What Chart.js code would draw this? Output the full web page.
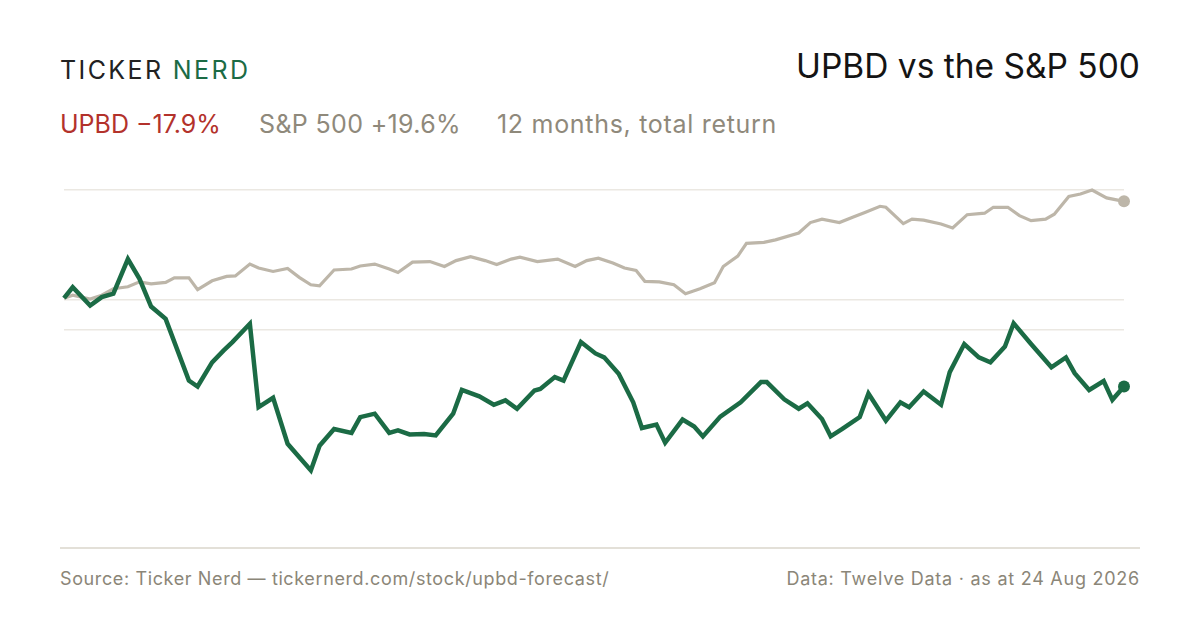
<!DOCTYPE html>
<html>
<head>
<meta charset="utf-8">
<script src="https://cdn.jsdelivr.net/npm/chart.js@4/dist/chart.umd.min.js"></script>
<style>
  body { margin: 0; background: #fff; font-family: Inter, "Liberation Sans", Arial, sans-serif; }
  #page { position: relative; width: 1200px; height: 630px; overflow: hidden; background: #fff; }
  .brand { position: absolute; left: 60px; top: 55px; font-size: 25px; letter-spacing: 2.4px; color: #222; }
  .brand span { color: #1b6b45; }
  .title { position: absolute; right: 60px; top: 46px; font-size: 33.5px; color: #141414; }
  .sub { position: absolute; top: 109px; font-size: 25px; color: #8f897b; white-space: nowrap; }
  .foot { position: absolute; top: 568px; font-size: 18px; letter-spacing: 0.62px; color: #8b8678; white-space: nowrap; }
  .rule { position: absolute; left: 60px; top: 547px; width: 1080px; height: 2px; background: #e3e0d8; }
  #wrap { position: absolute; left: 44px; top: 130px; width: 1100px; height: 435px; }
</style>
</head>
<body>
<div id="page">
  <div class="brand">TICKER <span>NERD</span></div>
  <div class="title">UPBD vs the S&amp;P 500</div>
  <div class="sub" style="left:60px;color:#b3322b">UPBD &minus;17.9%</div>
  <div class="sub" style="left:259px;letter-spacing:0.35px">S&amp;P 500 +19.6%</div>
  <div class="sub" style="left:497px;letter-spacing:0.7px">12 months, total return</div>
  <div id="wrap"><canvas id="returnChart"></canvas></div>
  <div class="rule"></div>
  <div class="foot" style="left:60px">Source: Ticker Nerd — tickernerd.com/stock/upbd-forecast/</div>
  <div class="foot" style="right:60px;letter-spacing:0.75px">Data: Twelve Data · as at 24 Aug 2026</div>
</div>
<script>
// days since 24 Aug 2025, cumulative total return in %
let upbdDays = [0, 3, 9, 13, 17, 22, 26, 30, 35, 43, 46, 51, 55, 58, 64, 67, 72, 77, 85, 88,
  93, 99, 102, 107, 112, 115, 119, 124, 128, 134, 137, 143, 148, 152, 156, 162, 164, 169, 172, 178,
  183, 186, 191, 196, 199, 204, 207, 213, 217, 220, 226, 233, 240, 242, 248, 253, 256, 261, 264, 268,
  274, 277, 283, 288, 291, 296, 302, 305, 310, 315, 319, 324, 327, 333, 340, 345, 348, 353, 358, 361, 365];
let upbdReturn = [0, 2.2, -1.5, 0.2, 0.9, 7.9, 3.9, -1.7, -4.2, -16.7, -17.9, -13.0, -10.6, -8.9, -5.2, -22.1, -20.2, -29.5, -34.9, -29.9,
  -26.5, -27.3, -24.1, -23.4, -27.3, -26.8, -27.6, -27.5, -27.8, -23.4, -18.6, -19.9, -21.6, -20.7, -22.4, -18.7, -18.4, -16.0, -16.7, -8.9,
  -11.2, -12.0, -15.3, -21.1, -26.3, -25.6, -29.3, -24.6, -26.0, -28.0, -24.0, -21.1, -17.0, -17.0, -20.5, -22.4, -21.3, -24.5, -28.0, -26.5,
  -24.1, -19.3, -24.8, -21.1, -22.1, -18.9, -21.6, -15.0, -9.3, -12.0, -13.0, -9.8, -5.1, -9.3, -14.0, -12.0, -15.2, -18.6, -16.8, -20.6, -17.9];

let spxDays = [0, 3, 9, 13, 17, 22, 26, 30, 35, 38, 43, 46, 51, 56, 59, 64, 67, 72, 77, 81,
  85, 88, 93, 99, 102, 107, 112, 115, 120, 126, 131, 135, 140, 145, 149, 154, 157, 163, 170, 176,
  180, 184, 189, 193, 197, 200, 205, 210, 214, 219, 224, 227, 232, 235, 241, 245, 253, 257, 261, 267,
  272, 276, 281, 283, 289, 292, 296, 302, 306, 311, 317, 320, 325, 329, 333, 338, 341, 346, 350, 354, 359, 365];
let spxReturn = [0, 0.6, -0.2, 0.6, 1.9, 2.3, 3.3, 2.9, 3.2, 4.1, 4.1, 1.7, 3.5, 4.4, 4.5, 6.9, 6.1, 5.4, 6.0, 4.2,
  2.7, 2.5, 5.7, 5.9, 6.5, 6.9, 5.9, 5.2, 7.3, 7.4, 6.4, 7.6, 8.4, 7.6, 6.8, 7.9, 8.3, 7.4, 7.9, 6.4,
  7.6, 8.1, 7.1, 6.1, 5.6, 3.4, 3.3, 2.7, 0.9, 1.9, 3.1, 6.4, 8.5, 11.1, 11.3, 11.8, 13.2, 15.3, 16.0, 15.3,
  16.5, 17.4, 18.6, 18.4, 15.1, 16.0, 15.8, 15.0, 14.2, 16.9, 17.2, 18.4, 18.4, 16.7, 15.7, 16.0, 17.0, 20.6, 21.1, 21.9, 20.3, 19.6];

let gridValues = [21.9, -0.3, -6.5];

function toPoints(days, values) {
    return days.map((d, i) => ({ x: d, y: values[i] }));
}

function lastDot(size) {
    return ctx => ctx.dataIndex === ctx.dataset.data.length - 1 ? size : 0;
}

let ctx = document.getElementById("returnChart").getContext("2d");

new Chart(ctx, {
    type: 'line',
    data: {
        datasets: [{
            label: "UPBD",
            data: toPoints(upbdDays, upbdReturn),
            borderColor: "#1b6b45",
            backgroundColor: "#1b6b45",
            borderWidth: 4.5,
            pointRadius: lastDot(6),
            pointBorderWidth: 0,
            tension: 0,
            clip: false,
            order: 0
        }, {
            label: "S&P 500",
            data: toPoints(spxDays, spxReturn),
            borderColor: "#bdb6a9",
            backgroundColor: "#bdb6a9",
            borderWidth: 3.2,
            pointRadius: lastDot(6),
            pointBorderWidth: 0,
            tension: 0,
            clip: false,
            order: 1
        }]
    },
    options: {
        responsive: true,
        maintainAspectRatio: false,
        animation: false,
        layout: { padding: 20 },
        plugins: { legend: { display: false }, tooltip: { enabled: false } },
        scales: {
            x: { type: 'linear', min: 0, max: 365, display: false },
            y: {
                min: -50,
                max: 30,
                border: { display: false },
                ticks: { display: false },
                grid: { color: "#ebe8e2", lineWidth: 1.5, drawTicks: false },
                afterBuildTicks: scale => { scale.ticks = gridValues.map(v => ({ value: v })); },
                afterFit: scale => { scale.width = 0; }
            }
        }
    }
});
</script>
</body>
</html>
